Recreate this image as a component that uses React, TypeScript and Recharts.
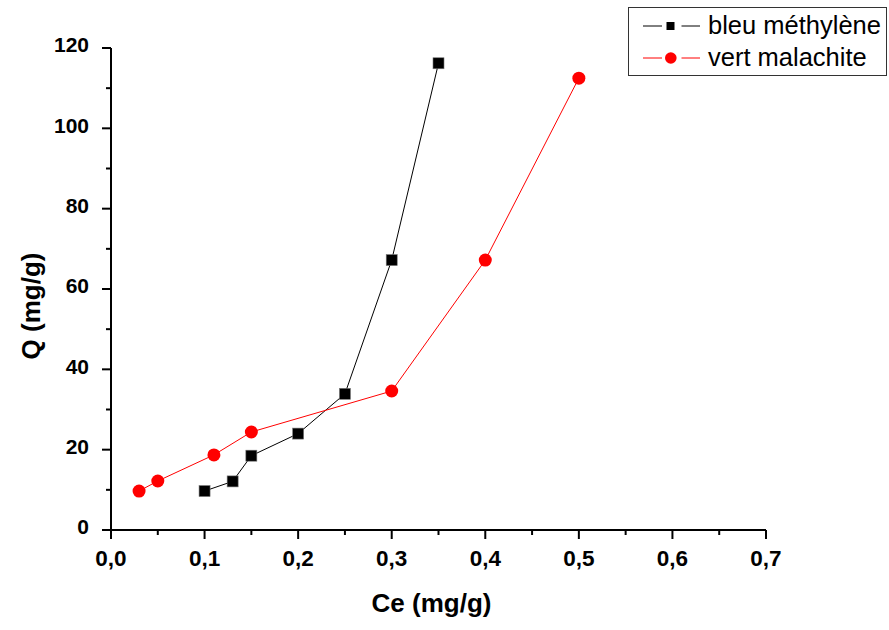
import React from "react";
import { ScatterChart, Scatter, XAxis, YAxis } from "recharts";

// Ce (mg/g) and Q (mg/g) for each dye
const bleuCe = [0.1, 0.13, 0.15, 0.2, 0.25, 0.3, 0.35];
const bleuQ = [9.7, 12.1, 18.5, 24.0, 33.9, 67.2, 116.2];

const vertCe = [0.03, 0.05, 0.11, 0.15, 0.3, 0.4, 0.5];
const vertQ = [9.7, 12.2, 18.7, 24.4, 34.6, 67.2, 112.5];

const xMajorTicks = [0, 0.1, 0.2, 0.3, 0.4, 0.5, 0.6, 0.7];
const xMinorTicks = [0.05, 0.15, 0.25, 0.35, 0.45, 0.55, 0.65];
const yMajorTicks = [0, 20, 40, 60, 80, 100, 120];
const yMinorTicks = [10, 30, 50, 70, 90, 110];

const seriesNames = ["bleu méthylène", "vert malachite"];

const bleuData = bleuCe.map((x, i) => ({ x, y: bleuQ[i] }));
const vertData = vertCe.map((x, i) => ({ x, y: vertQ[i] }));

const xAllTicks = [...xMajorTicks, ...xMinorTicks].sort((a, b) => a - b);
const yAllTicks = [...yMajorTicks, ...yMinorTicks].sort((a, b) => a - b);

const FONT = "Arial, 'Liberation Sans', sans-serif";
const TICK_SIZE = 9;
const MINOR_SIZE = 5;
const X_MARGIN = 11;
const Y_MARGIN = 13;

const isMajor = (list: number[], v: number) =>
	list.some((t) => Math.abs(t - v) < 1e-9);

// draws tick line (major / minor) plus label for majors
function XTick(props: any) {
	const { x, y, payload } = props;
	const axisY = y - X_MARGIN - TICK_SIZE;
	const major = isMajor(xMajorTicks, payload.value);
	return (
		<g>
			<line
				x1={x}
				x2={x}
				y1={axisY}
				y2={axisY + (major ? TICK_SIZE : MINOR_SIZE)}
				stroke='#000'
				strokeWidth={2}
			/>
			{major && (
				<text
					x={x}
					y={y}
					dy='0.71em'
					textAnchor='middle'
					fontFamily={FONT}
					fontSize={22.5}
					fontWeight={700}
					fill='#000'
				>
					{payload.value.toFixed(1).replace(".", ",")}
				</text>
			)}
		</g>
	);
}

function YTick(props: any) {
	const { x, y, payload } = props;
	const axisX = x + Y_MARGIN + TICK_SIZE;
	const major = isMajor(yMajorTicks, payload.value);
	return (
		<g>
			<line
				x1={axisX}
				x2={axisX - (major ? TICK_SIZE : MINOR_SIZE)}
				y1={y}
				y2={y}
				stroke='#000'
				strokeWidth={2}
			/>
			{major && (
				<text
					x={x}
					y={y - 3}
					dy='0.355em'
					textAnchor='end'
					fontFamily={FONT}
					fontSize={21}
					fontWeight={700}
					fill='#000'
				>
					{payload.value}
				</text>
			)}
		</g>
	);
}

function Square(props: any) {
	const { cx, cy } = props;
	return (
		<rect
			x={cx - 5.5}
			y={cy - 5.5}
			width={11}
			height={11}
			fill='#000'
			stroke='#777'
			strokeWidth={0.6}
		/>
	);
}

function Dot(props: any) {
	const { cx, cy } = props;
	return <circle cx={cx} cy={cy} r={6.5} fill='#ff0000' />;
}

function YTitle(props: any) {
	const { viewBox } = props;
	const x = 31;
	const y = viewBox.y + viewBox.height / 2 + 17;
	return (
		<text
			x={x}
			y={y}
			transform={`rotate(-90 ${x} ${y})`}
			textAnchor='middle'
			dominantBaseline='central'
			style={{ fontFamily: FONT, fontSize: 26, fontWeight: 700, fill: "#000" }}
		>
			Q (mg/g)
		</text>
	);
}

function LegendBox() {
	const row = (i: number) => {
		const color = i === 0 ? "#000" : "#ff0000";
		return (
			<div
				key={i}
				style={{ display: "flex", alignItems: "center", height: 32 }}
			>
				<svg width={66} height={20} style={{ marginLeft: 13 }}>
					<line x1={1} x2={20} y1={10} y2={10} stroke={color} strokeWidth={1} />
					<line x1={39.5} x2={58} y1={10} y2={10} stroke={color} strokeWidth={1} />
					{i === 0 ? (
						<rect x={24.5} y={6} width={8} height={8} fill='#000' />
					) : (
						<circle cx={28.8} cy={10} r={5.8} fill='#ff0000' />
					)}
				</svg>
				<span style={{ fontSize: 25.5, lineHeight: 1 }}>{seriesNames[i]}</span>
			</div>
		);
	};
	return (
		<div
			style={{
				position: "absolute",
				left: 628,
				top: 7,
				width: 259,
				height: 69,
				border: "1px solid #333",
				boxSizing: "border-box",
				fontFamily: FONT,
				color: "#000",
				paddingTop: 2,
			}}
		>
			{row(0)}
			{row(1)}
		</div>
	);
}

export default function App() {
	return (
		<div
			style={{
				position: "absolute",
				left: 0,
				top: 0,
				width: 889,
				height: 630,
				background: "#fff",
			}}
		>
			<ScatterChart
				width={889}
				height={630}
				margin={{ top: 48, right: 123, bottom: 0, left: 0 }}
			>
				<XAxis
					type='number'
					dataKey='x'
					domain={[0, 0.7]}
					ticks={xAllTicks}
					allowDataOverflow
					height={100}
					interval={0}
					tickSize={TICK_SIZE}
					tickMargin={X_MARGIN}
					tick={<XTick />}
					tickLine={false}
					axisLine={{ stroke: "#000", strokeWidth: 2 }}
					label={{
						value: "Ce (mg/g)",
						position: "insideBottom",
						offset: 18,
						dx: -7,
						style: {
							fontFamily: FONT,
							fontSize: 26,
							fontWeight: 700,
							fill: "#000",
						},
					}}
				/>
				<YAxis
					type='number'
					dataKey='y'
					domain={[0, 120]}
					ticks={yAllTicks}
					allowDataOverflow
					width={111}
					interval={0}
					tickSize={TICK_SIZE}
					tickMargin={Y_MARGIN}
					tick={<YTick />}
					tickLine={false}
					axisLine={{ stroke: "#000", strokeWidth: 2 }}
					label={<YTitle />}
				/>
				<Scatter
					name={seriesNames[0]}
					data={bleuData}
					line={{ stroke: "#000", strokeWidth: 1 }}
					lineType='joint'
					shape={<Square />}
					isAnimationActive={false}
				/>
				<Scatter
					name={seriesNames[1]}
					data={vertData}
					line={{ stroke: "#ff0000", strokeWidth: 1 }}
					lineType='joint'
					shape={<Dot />}
					isAnimationActive={false}
				/>
			</ScatterChart>
			<LegendBox />
		</div>
	);
}
